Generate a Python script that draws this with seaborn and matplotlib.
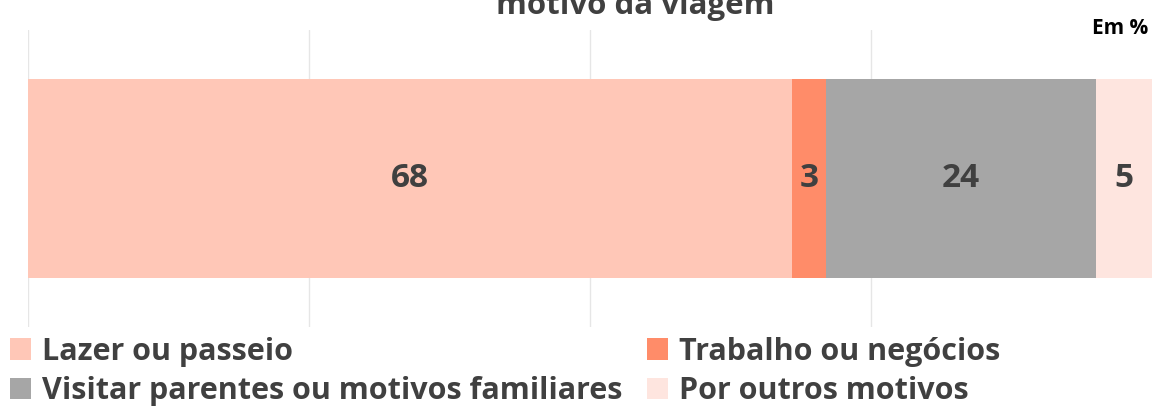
import seaborn as sns
import pandas as pd
import matplotlib.pyplot as plt
from matplotlib.patches import Patch

# dados: motivo da viagem (em %)
motivos = ['Lazer ou passeio', 'Trabalho ou negócios',
           'Visitar parentes ou motivos familiares', 'Por outros motivos']
valores = [68, 3, 24, 5]
cores = ['#FFC7B7', '#FF8C69', '#A6A6A6', '#FEE5DF']

sns.set_theme(style='white')
plt.rcParams['font.family'] = ['Open Sans', 'DejaVu Sans']
plt.rcParams['font.weight'] = 'bold'
texto = '#404040'

df = pd.DataFrame({'motivo': motivos, 'valor': valores, 'cor': cores})
df['acum'] = df['valor'].cumsum()
df['linha'] = ''

fig = plt.figure(figsize=(11.52, 4.08), dpi=100)
ax = fig.add_axes([28 / 1152, 81 / 408, 1124 / 1152, 297 / 408])

# barras empilhadas: desenha os totais acumulados do maior para o menor
for i in reversed(range(len(df))):
    sns.barplot(data=df.iloc[[i]], x='acum', y='linha', orient='h',
                color=df['cor'][i], saturation=1, width=0.8, ax=ax,
                linewidth=0, zorder=2)

for i, row in df.iterrows():
    ax.text(row['acum'] - row['valor'] / 2, 0, str(row['valor']),
            ha='center', va='center', fontsize=24, fontweight='bold',
            color=texto, zorder=3)

ax.set_xlim(0, 100)
ax.set_ylim(0.595, -0.595)
ax.set_xticks([0, 25, 50, 75])
ax.set_yticks([])
ax.xaxis.grid(True, color='#E6E6E6', linewidth=1)
ax.set_axisbelow(True)
ax.tick_params(axis='x', length=0, labelbottom=False)
ax.set_xlabel('')
ax.set_ylabel('')
sns.despine(ax=ax, left=True, bottom=True)

# título cortado no topo, como no original
fig.text(635 / 1152, 1 - 14 / 408, 'motivo da viagem', ha='center',
         va='baseline', fontsize=22.5, fontweight='bold', color=texto)
fig.text(1148 / 1152, 1 - 34 / 408, 'Em %', ha='right', va='baseline',
         fontsize=15, fontweight='bold', color='black')

# legenda em duas colunas, preenchida por linha
handles = [Patch(facecolor=c, edgecolor='none') for c in cores]
opts = dict(loc='lower left', frameon=False, fontsize=22, handlelength=0.7,
            handleheight=0.7, handletextpad=0.35, labelspacing=0.3,
            labelcolor=texto, borderpad=0, borderaxespad=0)
leg1 = fig.legend([handles[0], handles[2]], [motivos[0], motivos[2]],
                  bbox_to_anchor=(10 / 1152, 2 / 408), **opts)
leg2 = fig.legend([handles[1], handles[3]], [motivos[1], motivos[3]],
                  bbox_to_anchor=(647 / 1152, 2 / 408), **opts)

fig.savefig('out.png', dpi=100)
